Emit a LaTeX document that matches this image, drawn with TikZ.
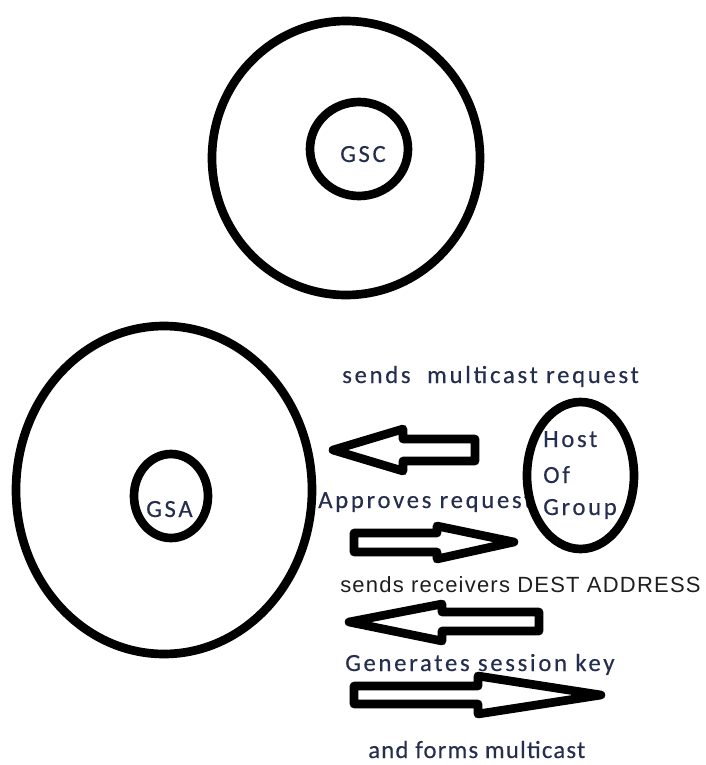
\documentclass[tikz,border=0pt]{standalone}
\usepackage{fontspec}
\newfontfamily\calfont[LetterSpace=11,FakeBold=0.4]{Carlito}
\newfontfamily\calnarrow[LetterSpace=5,FakeBold=0.4]{Carlito}
\newfontfamily\arfont[LetterSpace=5.5]{Liberation Sans}
\usetikzlibrary{shapes.geometric}
\definecolor{inkblue}{HTML}{262E4F}
\definecolor{inkgrey}{HTML}{1E1E1E}

\begin{document}
\begin{tikzpicture}[x=0.75pt, y=-0.75pt,
    ring/.style={ellipse, draw, line width=6.5pt, inner sep=0pt},
    blockarrow/.style={draw, line width=6.5pt, line join=round},
    caption/.style={anchor=base west, inner sep=0pt, text=inkblue, font=\calfont\fontsize{18.5}{22}\selectfont},
    plaincap/.style={anchor=base west, inner sep=0pt, text=inkgrey, font=\arfont\fontsize{16.5}{20}\selectfont}
]
    \useasboundingbox (0,0) rectangle (706,765);

    % controller
    \node[ring, minimum width=201pt, minimum height=205.5pt] (gscring) at (346,158) {};
    \node[ring, minimum width=73.5pt, minimum height=70.5pt] (gsc) at (359,149) {};
    \node[caption] (gsclabel) at (340,162) {GSC};

    % group server
    \node[ring, minimum width=222pt, minimum height=246pt] (gsaring) at (164,490) {};
    \node[ring, minimum width=55.5pt, minimum height=63pt] (gsa) at (171,496) {};
    \node[caption] (gsalabel) at (146,517) {GSA};

    % messages
    \node[caption] (msgreq) at (342,383) {sends\ \ multicast request};
    \node[caption] (msgok) at (318,508) {Approves request};
    \node[plaincap] (msgdest) at (340,592) {sends receivers DEST ADDRESS};
    \node[caption] (msgkey) at (345,671) {Generates session key};
    \node[caption, font=\calnarrow\fontsize{18.5}{22}\selectfont] (msgform) at (368,758) {and forms multicast};

    \draw[blockarrow] (333,450) -- (403,429) -- (403,439) -- (475,439) -- (475,461) -- (403,461) -- (403,471) -- cycle;
    \draw[blockarrow] (354,533) -- (437,533) -- (437,526) -- (514,542) -- (437,559) -- (437,552) -- (354,552) -- cycle;
    \draw[blockarrow] (349,622) -- (442,604) -- (442,612) -- (539,612) -- (539,631) -- (442,631) -- (442,641) -- cycle;
    \draw[blockarrow] (354,686) -- (478,686) -- (478,676) -- (601,695) -- (478,714) -- (478,704) -- (354,704) -- cycle;

    % host
    \node[caption] (hostA) at (543,447) {Host};
    \node[caption] (hostB) at (543,483) {Of};
    \node[caption] (hostC) at (543,515) {Group};
    \node[ring, minimum width=80.25pt, minimum height=110.25pt] (host) at (580.5,475.5) {};
\end{tikzpicture}
\end{document}
